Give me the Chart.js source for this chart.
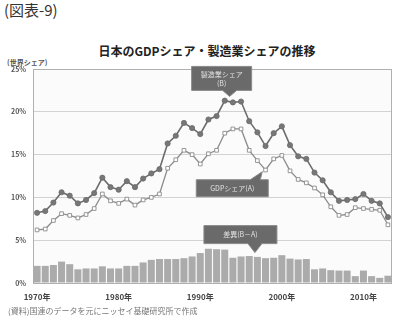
<!DOCTYPE html>
<html>
<head>
<meta charset="utf-8">
<script src="https://cdn.jsdelivr.net/npm/chart.js@4/dist/chart.umd.min.js"></script>
<style>
  body { margin: 0; background: #fff; font-family: "Noto Sans CJK JP", sans-serif; }
  #wrap { position: relative; width: 408px; height: 334px; overflow: hidden; }
  #chart { position: absolute; left: 0; top: 0; }
  .txt { position: absolute; white-space: nowrap; }
  #fig { left: 4px; top: -1px; font-size: 15px; color: #333; }
  #title { left: 0; width: 414px; text-align: center; top: 42px; font-size: 12px; font-weight: bold; color: #222; }
  #unit { left: 7px; top: 57px; font-size: 7px; font-weight: bold; color: #555; }
  #source { left: 8px; top: 305px; font-size: 8px; color: #777; }
</style>
</head>
<body>
<div id="wrap">
  <div class="txt" id="fig">(図表-9)</div>
  <div class="txt" id="title">日本のGDPシェア・製造業シェアの推移</div>
  <div class="txt" id="unit">(世界シェア)</div>
  <canvas id="chart" width="408" height="334"></canvas>
  <div class="txt" id="source">(資料)国連のデータを元にニッセイ基礎研究所で作成</div>
</div>
<script>
// years 1970-2013
const years = [];
for (let y = 1970; y <= 2013; y++) years.push(y);

// 製造業シェア (B), %
const mfgShare = [8.2, 8.4, 9.4, 10.6, 10.2, 9.3, 9.7, 10.5, 12.3, 11.2,
                  10.9, 11.9, 11.2, 12.2, 12.8, 13.3, 16.3, 17.2, 18.7, 18.1,
                  17.4, 19.1, 19.5, 21.3, 21.1, 21.2, 18.9, 17.6, 16.0, 17.5,
                  18.3, 16.1, 14.8, 14.5, 12.9, 12.0, 10.6, 9.6, 9.7, 9.8,
                  10.4, 9.6, 9.3, 7.7];

// GDPシェア (A), %
const gdpShare = [6.2, 6.3, 7.3, 8.1, 7.9, 7.6, 8.0, 8.7, 10.4, 9.6,
                  9.3, 9.8, 9.1, 9.7, 10.0, 10.4, 13.4, 14.4, 15.5, 15.0,
                  13.9, 15.1, 15.5, 17.5, 18.0, 18.0, 15.5, 14.3, 13.2, 14.5,
                  14.9, 13.1, 12.1, 11.7, 11.1, 10.3, 8.9, 7.9, 8.0, 8.8,
                  8.7, 8.6, 8.5, 6.8];

// 差異 (B-A), %
const gapShare = [2.0, 2.0, 2.1, 2.5, 2.2, 1.6, 1.7, 1.7, 1.95, 1.7,
                  1.7, 2.0, 2.0, 2.4, 2.7, 2.8, 2.8, 2.8, 2.9, 3.1,
                  3.5, 4.0, 3.95, 3.9, 2.95, 3.1, 3.15, 3.05, 2.9, 2.95,
                  3.25, 2.85, 2.75, 2.8, 1.6, 1.7, 1.5, 1.45, 1.45, 0.8,
                  1.45, 0.8, 0.6, 0.85];

const yTicks = [0, 5, 10, 15, 20, 25];

// callout boxes: text lines, box in px relative to data anchor, pointer tip in data coords
const callouts = [
  { lines: ['製造業シェア', '(B)'], tipX: 23.6, tipY: 21.8, box: [-38, -30, 60, 24], base: 'bottom' },
  { lines: ['GDPシェア(A)'], tipX: 27.6, tipY: 13.0, box: [-66, 8, 72, 17], base: 'topRight' },
  { lines: ['差異(B－A)'], tipX: 26.7, tipY: 3.55, box: [-51, -27, 73, 18], base: 'bottom' }
];

const plotFrame = {
  id: 'plotFrame',
  beforeDatasetsDraw(chart) {
    const { ctx, chartArea: a } = chart;
    ctx.save();
    ctx.strokeStyle = '#b0b0b0';
    ctx.lineWidth = 1;
    ctx.strokeRect(a.left + 0.5, a.top + 0.5, a.right - a.left - 1, a.bottom - a.top);
    ctx.restore();
  },
  beforeDraw(chart) {
    const { ctx, chartArea: a } = chart;
    ctx.save();
    ctx.fillStyle = '#fbfbfb';
    ctx.fillRect(a.left, a.top, a.right - a.left, a.bottom - a.top);
    ctx.restore();
  }
};

const calloutPlugin = {
  id: 'callouts',
  afterDatasetsDraw(chart) {
    const { ctx } = chart;
    const xs = chart.scales.x, ys = chart.scales.y;
    ctx.save();
    callouts.forEach(c => {
      const tx = xs.getPixelForValue(c.tipX);
      const ty = ys.getPixelForValue(c.tipY);
      const [dx, dy, w, h] = c.box;
      const bx = tx + dx, by = ty + dy;
      ctx.fillStyle = '#6a6a6a';
      ctx.strokeStyle = '#8a8a8a';
      ctx.lineWidth = 1;
      ctx.beginPath();
      if (c.base === 'bottom') {
        ctx.moveTo(bx, by);
        ctx.lineTo(bx + w, by);
        ctx.lineTo(bx + w, by + h);
        ctx.lineTo(tx + 7, by + h);
        ctx.lineTo(tx, ty);
        ctx.lineTo(tx - 7, by + h);
        ctx.lineTo(bx, by + h);
      } else {
        ctx.moveTo(bx, by);
        ctx.lineTo(tx - 12, by);
        ctx.lineTo(tx, ty);
        ctx.lineTo(tx - 2, by);
        ctx.lineTo(bx + w, by);
        ctx.lineTo(bx + w, by + h);
        ctx.lineTo(bx, by + h);
      }
      ctx.closePath();
      ctx.fill();
      ctx.stroke();
      ctx.fillStyle = '#e2e2e2';
      ctx.font = '7px "Noto Sans CJK JP"';
      ctx.textAlign = 'center';
      ctx.textBaseline = 'middle';
      const lh = 9;
      const cy = by + h / 2 - (c.lines.length - 1) * lh / 2;
      c.lines.forEach((t, i) => ctx.fillText(t, bx + w / 2, cy + i * lh));
    });
    ctx.restore();
  }
};

new Chart(document.getElementById('chart'), {
  data: {
    labels: years,
    datasets: [
      {
        type: 'line',
        label: '製造業シェア(B)',
        data: mfgShare,
        borderColor: '#6c6c6c',
        borderWidth: 1.6,
        pointStyle: 'circle',
        pointRadius: 2.6,
        pointBackgroundColor: '#777',
        pointBorderColor: '#6c6c6c',
        pointBorderWidth: 0.8,
        tension: 0,
        order: 1
      },
      {
        type: 'line',
        label: 'GDPシェア(A)',
        data: gdpShare,
        borderColor: '#8c8c8c',
        borderWidth: 1.3,
        pointStyle: 'rect',
        pointRadius: 2.6,
        pointBackgroundColor: '#fff',
        pointBorderColor: '#8c8c8c',
        pointBorderWidth: 0.9,
        tension: 0,
        order: 2
      },
      {
        type: 'bar',
        label: '差異(B-A)',
        data: gapShare,
        backgroundColor: '#ababab',
        borderWidth: 0,
        categoryPercentage: 1,
        barPercentage: 0.86,
        order: 3
      }
    ]
  },
  options: {
    responsive: false,
    animation: false,
    events: [],
    layout: { padding: { left: 0, right: 16, top: 69, bottom: 31 } },
    plugins: {
      legend: { display: false },
      tooltip: { enabled: false },
      title: { display: false }
    },
    scales: {
      x: {
        grid: { display: false },
        border: { display: false },
        afterFit(scale) { scale.height = 20; },
        ticks: {
          autoSkip: false,
          maxRotation: 0,
          padding: 1,
          color: '#444',
          font: { family: 'Noto Sans CJK JP', size: 8, weight: 'bold' },
          callback(v, i) {
            const y = years[i];
            return y % 10 === 0 ? y + '年' : '';
          }
        }
      },
      y: {
        min: 0,
        max: 25,
        afterFit(scale) { scale.width = 33; },
        afterBuildTicks(scale) { scale.ticks = yTicks.map(v => ({ value: v })); },
        grid: { color: '#d2d2d2', lineWidth: 1, drawTicks: false },
        border: { display: false },
        ticks: {
          padding: 7,
          color: '#555',
          font: { family: 'Noto Sans CJK JP', size: 7, weight: 'bold' },
          callback: v => v + '%'
        }
      }
    }
  },
  plugins: [plotFrame, calloutPlugin]
});
</script>
</body>
</html>
